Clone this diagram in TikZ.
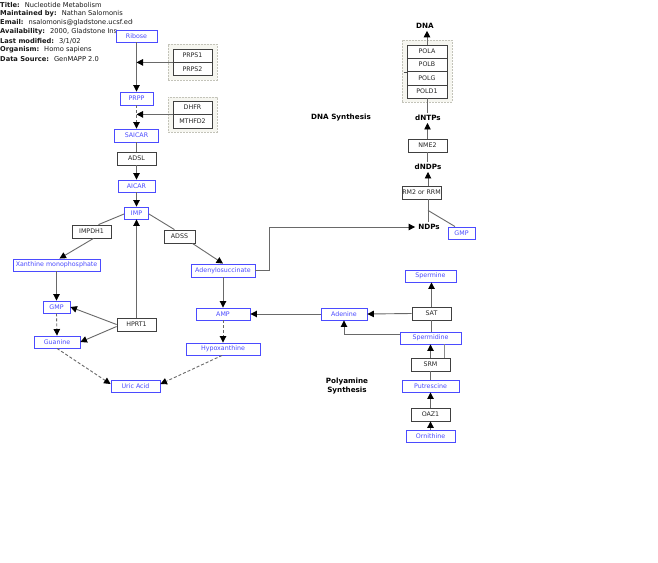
\documentclass[tikz,border=0pt]{standalone}
\usepackage{fontspec}
\setmainfont{DejaVu Sans}
\usetikzlibrary{arrows.meta,calc}
\definecolor{gblue}{RGB}{75,75,255}
\definecolor{gline}{RGB}{105,105,105}
\definecolor{grpfill}{RGB}{246,246,240}
\definecolor{grpdraw}{RGB}{195,195,185}
\begin{document}
\begin{tikzpicture}[x=1pt,y=-1pt,
  every node/.style={font=\fontsize{6.3}{7.5}\selectfont, inner sep=0pt},
  met/.style={draw=gblue, text=gblue, line width=0.9pt, fill=white},
  gene/.style={draw=black!75, text=black!85, line width=0.8pt, fill=white, minimum width=39pt, minimum height=13pt},
  grp/.style={draw=grpdraw, dash pattern=on 2pt off 1pt, fill=grpfill, line width=0.9pt},
  lbl/.style={font=\fontsize{7.2}{8.5}\selectfont\bfseries, inner sep=2pt},
  hdr/.style={anchor=west, text=black!90, font=\fontsize{6.7}{8}\selectfont},
  con/.style={draw=gline, line width=0.9pt},
  arr/.style={con, -{Triangle[length=6.5pt,width=6.5pt,color=black]}},
  dsh/.style={dash pattern=on 3pt off 2pt}]
\useasboundingbox (0,0) rectangle (658,562);
\fill[white] (0,0) rectangle (658,562);

% header
\node[hdr] (h1) at (0,5) {\textbf{Title:}\hspace{5pt}Nucleotide Metabolism};
\node[hdr] (h2) at (0,14) {\textbf{Maintained by:}\hspace{5pt}Nathan Salomonis};
\begin{scope}
\clip (0,18) rectangle (132,28);
\node[hdr] (h3) at (0,23) {\textbf{Email:}\hspace{5pt}nsalomonis@gladstone.ucsf.edu};
\end{scope}
\node[hdr] (h4) at (0,32) {\textbf{Availability:}\hspace{5pt}2000, Gladstone Ins};
\node[hdr] (h5) at (0,41) {\textbf{Last modified:}\hspace{5pt}3/1/02};
\node[hdr] (h6) at (0,50) {\textbf{Organism:}\hspace{5pt}Homo sapiens};
\node[hdr] (h7) at (0,59) {\textbf{Data Source:}\hspace{5pt}GenMAPP 2.0};

% groups
\node[grp, minimum width=49pt, minimum height=36pt] (g1) at (192.5,62) {};
\node[gene] (prps1) at (192.5,55.5) {PRPS1};
\node[gene] (prps2) at (192.5,69) {PRPS2};
\node[grp, minimum width=49pt, minimum height=35pt] (g2) at (192.5,114.5) {};
\node[gene] (dhfr) at (192.5,107.5) {DHFR};
\node[gene, minimum height=14pt] (mthfd2) at (192.5,121) {MTHFD2};
\node[grp, minimum width=50pt, minimum height=62pt] (g3) at (427,71) {};
\node[gene, minimum width=40pt] (pola) at (427,51.5) {POLA};
\node[gene, minimum width=40pt] (polb) at (427,64.5) {POLB};
\node[gene, minimum width=40pt, minimum height=14pt] (polg) at (427,78) {POLG};
\node[gene, minimum width=40pt] (pold1) at (427,91.5) {POLD1};
\coordinate (tk1) at (403.5,72);
\coordinate (tk2) at (407,72);
\draw[black!70, line width=0.6pt] (tk1) -- (tk2);

% metabolites
\node[met, minimum width=41pt, minimum height=12pt] (ribose) at (136.5,36) {Ribose};
\node[met, minimum width=33pt, minimum height=13pt] (prpp) at (136.5,98.5) {PRPP};
\node[met, minimum width=44pt, minimum height=13pt] (saicar) at (136.5,135.5) {SAICAR};
\node[gene] (adsl) at (136.5,158.5) {ADSL};
\node[met, minimum width=37pt, minimum height=12pt] (aicar) at (136.5,186) {AICAR};
\node[met, minimum width=24pt, minimum height=12pt] (imp) at (136.5,213) {IMP};
\node[gene] (impdh1) at (91.5,231.5) {IMPDH1};
\node[met, minimum width=87pt, minimum height=12pt] (xmp) at (56.5,265) {Xanthine monophosphate};
\node[met, minimum width=27pt, minimum height=12pt] (gmpl) at (56.5,307) {GMP};
\node[met, minimum width=46pt, minimum height=12pt] (guanine) at (57,342) {Guanine};
\node[gene] (hprt1) at (136.5,324.5) {HPRT1};
\node[met, minimum width=49pt, minimum height=12pt] (uric) at (135.5,386) {Uric Acid};
\node[gene, minimum width=31pt] (adss) at (179.5,236.5) {ADSS};
\node[met, minimum width=64pt, minimum height=13pt] (adenylo) at (223,270.5) {Adenylosuccinate};
\node[met, minimum width=54pt, minimum height=12pt] (amp) at (223,314) {AMP};
\node[met, minimum width=74pt, minimum height=12pt] (hypox) at (223,349) {Hypoxanthine};
\node[met, minimum width=46pt, minimum height=12pt] (adenine) at (344,314) {Adenine};
\node[met, minimum width=51pt, minimum height=12pt] (spermine) at (430.5,276) {Spermine};
\node[gene] (sat) at (431.5,313.5) {SAT};
\node[met, minimum width=61pt, minimum height=12pt] (spermidine) at (430.5,338) {Spermidine};
\node[gene] (srm) at (430.5,364.5) {SRM};
\node[met, minimum width=57pt, minimum height=12pt] (putrescine) at (430.5,386) {Putrescine};
\node[gene] (oaz1) at (430.5,414.5) {OAZ1};
\node[met, minimum width=49pt, minimum height=12pt] (ornithine) at (430.5,436) {Ornithine};
\node[gene] (nme2) at (427.5,145.5) {NME2};
\node[gene] (rm2) at (421.5,192.5) {RM2 or RRM};
\node[met, minimum width=27pt, minimum height=12pt] (gmpr) at (461.5,233) {GMP};

% labels
\node[lbl] (dna) at (425,26) {DNA};
\node[lbl] (dntps) at (428,118) {dNTPs};
\node[lbl] (dndps) at (428,167) {dNDPs};
\node[lbl] (ndps) at (429,227) {NDPs};
\node[lbl] (dnasyn) at (341,118) {DNA Synthesis};
\node[lbl, align=center, font=\fontsize{7.2}{9}\selectfont\bfseries] (polysyn) at (347,386) {Polyamine\\Synthesis};

% helper coordinates
\coordinate (rmT) at ($(rm2.north)+(6.5,0)$);
\coordinate (rmB) at ($(rm2.south)+(6.5,0)$);
\coordinate (rmM) at ($(rm2.south)+(6.5,11)$);
\coordinate (srmR) at ($(srm.north east)+(-6,0)$);

% connectors
\draw[arr] (ribose.south) -- (prpp.north);
\draw[arr] (prps1.south west) -- (prps1.south west -| ribose.south);
\draw[arr] (dhfr.south west) -- (dhfr.south west -| prpp.south);
\draw[arr, dsh] (prpp.south) -- (saicar.north);
\draw[con] (saicar.south) -- (adsl.north);
\draw[arr] (adsl.south) -- (aicar.north);
\draw[arr] (aicar.south) -- (imp.north);
\draw[con] ($(imp.west)+(0,1)$) -- ($(impdh1.north)+(7,0)$);
\draw[arr] ($(impdh1.south)+(2,0)$) -- ($(xmp.north)+(3,0)$);
\draw[arr] (xmp.south) -- (gmpl.north);
\draw[arr, dsh] (gmpl.south) -- (guanine.north);
\draw[arr] (hprt1.north) -- (imp.south);
\draw[arr] (hprt1.west) -- (gmpl.east);
\draw[arr] ($(hprt1.west)+(0,2)$) -- (guanine.east);
\draw[arr, dsh] (guanine.south) -- ($(uric.west)+(0,-2)$);
\draw[arr, dsh] ($(hypox.south)+(-1,0)$) -- ($(uric.east)+(0,-2)$);
\draw[con] ($(imp.east)+(0,1)$) -- ($(adss.north)+(-5,0)$);
\draw[arr] ($(adss.south east)+(-3,0)$) -- (adenylo.north);
\draw[arr] (adenylo.south) -- (amp.north);
\draw[arr, dsh] (amp.south) -- (hypox.north);
\draw[arr, shorten >=1pt] (adenylo.east) -- ++(14,0) |- (ndps.west);
\draw[arr] (adenine.west) -- (amp.east);
\draw[arr] (sat.west) -- (adenine.east);
\draw[arr] (sat.north) -- (sat.north |- spermine.south);
\draw[con] (spermidine.north -| sat.north) -- (sat.south);
\draw[arr] ($(spermidine.west)+(0,-4)$) -| (adenine.south);
\draw[arr] (srm.north) -- (spermidine.south);
\draw[con, draw=black!45] (srmR) -- (srmR |- spermidine.south);
\draw[con] (putrescine.north) -- (srm.south);
\draw[arr] (oaz1.north) -- (putrescine.south);
\draw[arr] (ornithine.north) -- (oaz1.south);
\draw[arr] (pola.north) -- (pola.north |- dna.south);
\draw[con] (pold1.south) -- (pold1.south |- dntps.north);
\draw[arr] (nme2.north) -- (nme2.north |- dntps.south);
\draw[con] (nme2.south) -- (nme2.south |- dndps.north);
\draw[arr] (rmT) -- (rmT |- dndps.south);
\draw[con] (rmB) -- (rmB |- ndps.north);
\draw[con] (rmM) -- ($(gmpr.north)+(-6.5,0)$);
\end{tikzpicture}
\end{document}
